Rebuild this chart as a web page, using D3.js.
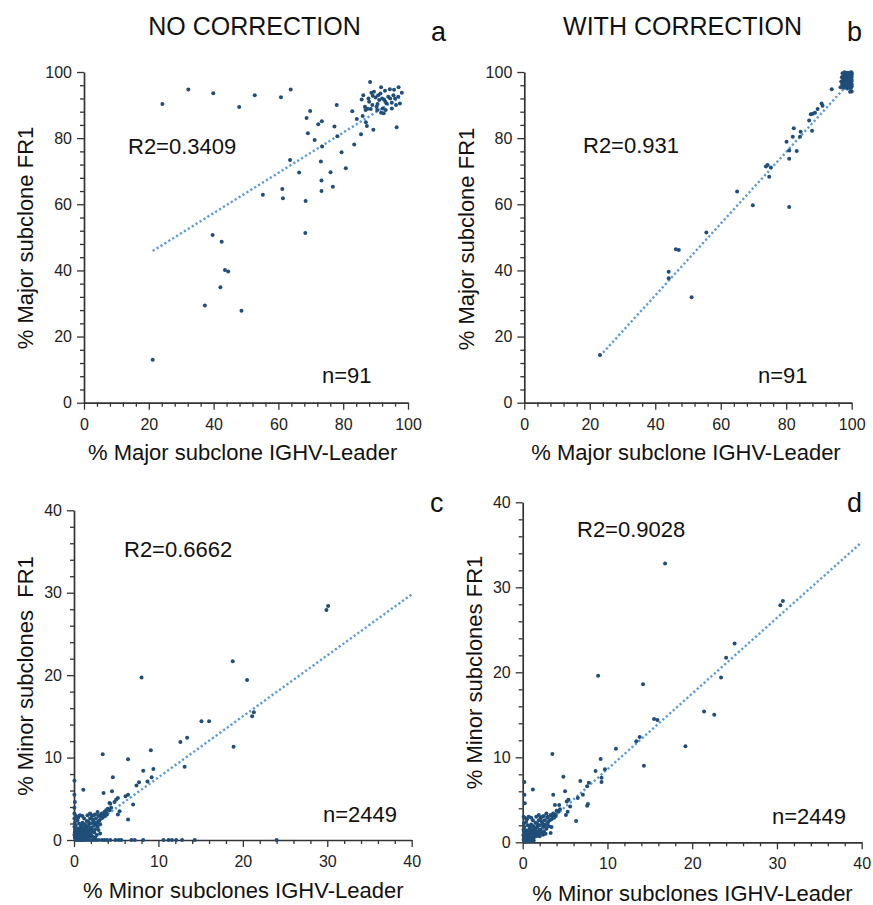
<!DOCTYPE html>
<html>
<head>
<meta charset="utf-8">
<script src="https://cdn.jsdelivr.net/npm/d3@7"></script>
<style>
  html, body { margin: 0; padding: 0; background: #fff; }
  svg { display: block; font-family: "Liberation Sans", Arial, Helvetica, sans-serif; }
</style>
</head>
<body>
<svg id="chart" width="873" height="905"></svg>
<script>
// ---- Data: % major subclone, leader vs FR1 (no correction) ----
const majorRaw = [
  [24.2,90.3],[32.2,94.7],[39.9,93.6],[47.9,89.4],[52.7,93.0],[60.8,92.4],[63.8,94.7],[88.3,97.0],
  [78.0,90.0],[69.8,88.2],[68.7,86.1],[73.4,85.1],[72.3,84.2],[77.3,83.5],[69.1,81.5],[71.2,79.4],
  [78.2,80.6],[73.5,77.5],[83.4,78.1],[79.5,75.7],[63.6,73.4],[73.1,72.9],[80.8,70.9],[66.4,69.6],
  [76.1,69.7],[73.3,67.2],[76.8,65.3],[73.3,64.0],[61.2,64.6],[61.4,61.8],[55.2,62.9],[68.4,61.0],
  [68.3,51.3],[39.7,50.7],[42.5,48.7],[43.5,40.1],[44.5,39.7],[42.1,34.9],[37.3,29.4],[48.6,27.8],
  [21.2,13.0],
  [82.8,88.1],[84.2,85.8],[85.5,81.2],[85.7,91.7],[86.2,93.0],[86.0,86.7],[86.7,89.5],[87.0,84.8],
  [87.3,83.7],[86.9,88.5],[87.5,88.9],[88.5,88.8],[88.7,93.7],[89.1,92.8],[89.3,82.5],[90.0,92.3],
  [90.3,89.5],[90.6,90.3],[90.8,93.0],[91.1,91.5],[91.7,87.7],[91.7,95.4],[92.2,89.0],[92.6,91.7],
  [92.9,94.3],[93.1,88.5],[93.4,90.5],[93.9,92.5],[94.4,94.8],[95.0,90.7],[95.5,93.0],[95.7,94.6],
  [96.0,92.0],[96.3,90.0],[96.5,83.3],[97.1,95.4],[97.5,90.5],[98.1,93.7],[97.0,92.5],
  [88.0,91.0],[89.5,94.0],[91.5,93.5],[92.0,92.0],[93.0,91.0],[94.5,92.0],[95.0,89.0],[89.0,90.0],
  [90.5,88.5],[92.5,87.5],[87.8,92.0]
];

// ---- Data: % major subclone, leader vs FR1 (with correction) ----
const majorCorrected = [
  [23.1,14.4],[51.1,31.9],[44.1,37.6],[44.1,39.6],[46.3,46.4],[47.2,46.2],[55.6,51.5],[65.0,63.9],
  [69.8,59.7],[80.9,59.2],[73.8,71.4],[74.3,71.9],[75.3,71.1],[74.8,68.3],[80.1,78.9],[80.9,76.3],
  [80.9,73.8],[83.2,76.1],[82.0,80.4],[82.3,83.0],[84.2,80.4],[84.4,81.9],[87.9,82.2],[87.0,85.3],
  [87.5,87.2],[88.1,87.4],[88.8,87.7],[89.6,88.8],[90.8,90.5],[91.1,89.8],[93.9,94.8],[99.5,94.0],
  [97.2,99.6],[97.6,98.8],[98.0,99.4],[98.3,98.1],[98.6,99.8],[98.9,99.0],[99.2,99.5],[99.5,98.6],[99.8,99.9],[100,99.3],
  [97.4,97.6],[97.9,97.2],[98.2,96.8],[98.7,97.7],[99.0,96.5],[99.3,97.4],[99.6,96.9],[99.9,97.8],[100,96.2],[97.1,96.3],
  [97.5,95.6],[98.1,95.9],[98.8,95.3],[99.4,95.8],[99.7,95.1],[100,95.6],[97.0,98.4],[97.8,99.9],[98.4,97.4],[99.1,98.2],
  [99.6,98.0],[100,98.5],[97.3,96.9],[98.5,96.2],[99.2,96.0],[99.8,96.6],[97.7,98.0],[98.9,98.6],[99.4,99.1],[100,97.3],
  [96.6,95.4],[97.9,96.4],[98.6,95.0],[99.3,99.8],[99.9,98.9],[97.5,99.1],[98.2,98.5],[99.0,97.1],[99.7,97.6],[100,99.8],
  [96.8,97.1],[98.0,98.0],[98.8,99.2],[99.5,96.4],[100,94.1],[97.6,95.2],[98.4,99.6],[99.1,95.5],[99.8,99.4]
];

// ---- Data: % minor subclones, leader vs FR1 (no correction) ----
const minorRaw = [
  [30.1,28.4],[29.9,27.9],[18.8,21.7],[8.0,19.7],[20.5,19.4],[21.3,15.5],[21.1,15.0],[15.1,14.4],
  [16.0,14.4],[18.9,11.3],[12.6,11.9],[13.4,12.4],[13.1,8.9],[3.4,10.4],[6.4,9.8],[9.1,10.9],
  [9.4,8.6],[8.2,8.4],[9.2,7.6],[8.7,7.1],[7.7,7.0],[7.4,6.6],[4.6,7.6],[4.5,5.9],[3.5,5.7],
  [1.1,6.1],[6.4,5.5],[6.1,5.3],[5.2,5.1],[4.8,4.6],[5.0,4.9],[7.0,4.3],[4.2,4.5],[6.4,2.5],
  [5.4,3.5],[5.2,3.1],[4.0,3.8],[3.8,3.6],[3.2,3.0],[3.1,0.8],
  [0.05,7.2],[0.05,5.5],[0.1,4.6],[0.05,3.9],[0.05,3.2],[0.05,2.6],[0.1,2.1],[0.05,1.6],[0.1,1.1],
  [0.05,0.6],[0.1,0.3],
  [0.2,0],[0.4,0],[0.6,0],[0.8,0],[1.0,0],[1.2,0],[1.4,0],[1.7,0],[2.0,0],[2.3,0],[2.6,0],[2.9,0],
  [3.3,0],[3.6,0],[3.9,0],[4.3,0],[4.9,0],[5.3,0],[5.6,0],[6.8,0],[7.2,0],[8.2,0],[10.6,0],[11.2,0],
  [11.6,0],[12.1,0],[12.8,0],[14.3,0],[24.0,0],
  [0.2,0.2],[0.3,0.5],[0.4,0.3],[0.5,0.8],[0.6,0.5],[0.7,0.2],[0.8,1.0],[0.9,0.6],[1.0,0.3],[1.1,1.2],
  [1.2,0.8],[1.3,0.5],[1.4,1.4],[1.5,1.0],[1.6,0.7],[1.7,1.7],[1.8,1.2],[1.9,0.9],[2.0,2.0],[2.1,1.5],
  [2.2,1.1],[2.3,2.3],[2.4,1.8],[2.5,1.3],[2.6,2.6],[2.7,2.1],[2.8,1.6],[2.9,2.9],[3.0,2.4],[3.1,1.9],
  [3.3,3.2],[3.4,2.7],[3.6,3.4],[3.7,2.9],[3.9,3.1],[4.2,3.6],[4.4,3.9],
  [0.3,1.0],[0.5,1.4],[0.2,1.8],[0.6,2.0],[0.4,2.4],[0.8,1.6],[1.0,2.1],[1.2,2.6],[1.0,2.9],[0.7,3.0],
  [1.3,1.9],[1.5,2.3],[1.6,3.0],[1.9,2.6],[2.1,2.9],[2.3,3.0],[1.9,3.2],[2.5,3.1],[2.8,3.4],
  [0.1,0.9],[0.2,0.6],[0.3,1.4],[0.4,0.1],[0.6,1.1],[0.7,0.8],[0.9,1.3],[1.1,0.1],[1.1,0.9],[1.3,1.1],
  [1.4,0.3],[1.6,1.2],[1.8,0.4],[2.0,0.7],[2.2,0.4],[2.4,0.9],[2.7,0.6],[0.5,0.1],[0.8,0.4],[1.5,1.6],
  [1.8,2.0],[2.0,1.4],[2.2,2.5],[2.6,1.9],[2.9,2.2],[3.2,2.6],[0.15,1.3],[0.35,0.75],[0.9,1.8],[1.2,1.5],
  [1.7,2.2],[2.4,2.1],[3.0,3.0],[3.5,3.0],[3.8,3.3],[4.0,3.7],[4.3,4.4],[2.9,1.2],[1.6,0.2],[2.5,0.3],
  [0.25,2.9],[0.5,2.7]
];

// ---- Data: % minor subclones, leader vs FR1 (with correction) ----
const minorCorrected = [
  [16.8,32.8],[30.7,28.4],[30.4,27.9],[25.0,23.4],[24.0,21.7],[23.4,19.4],[8.9,19.6],[14.2,18.6],
  [21.4,15.4],[22.6,15.0],[15.5,14.5],[15.9,14.4],[19.2,11.3],[13.8,12.4],[13.4,11.9],[11.0,11.0],
  [14.3,9.0],[3.5,10.4],[9.2,9.8],[8.6,8.4],[9.7,8.6],[9.3,7.6],[9.3,7.1],[6.8,7.2],[7.8,7.0],
  [7.6,6.6],[4.8,7.7],[5.0,6.0],[3.6,5.6],[1.2,6.2],[7.1,5.6],[6.5,5.2],[5.2,4.8],[5.4,5.0],
  [7.7,4.5],[7.6,4.3],[3.8,4.4],[5.6,4.2],[5.3,3.6],[5.1,3.2],[6.3,2.5],[3.3,1.1],
  [0.2,7.1],[0.2,5.6],[0.25,4.6],[0.1,3.0],[0.15,2.2],[0.1,1.5],[0.1,0.8],[0.1,0.3],
  [0.2,0.05],[0.5,0.1],[0.9,0.15],[1.3,0.2],[0.3,0.3],[0.7,0.4],
  [0.2,0.2],[0.3,0.5],[0.4,0.3],[0.5,0.8],[0.6,0.5],[0.7,0.2],[0.8,1.0],[0.9,0.6],[1.0,0.3],[1.1,1.2],
  [1.2,0.8],[1.3,0.5],[1.4,1.4],[1.5,1.0],[1.6,0.7],[1.7,1.7],[1.8,1.2],[1.9,0.9],[2.0,2.0],[2.1,1.5],
  [2.2,1.1],[2.3,2.3],[2.4,1.8],[2.5,1.3],[2.6,2.6],[2.7,2.1],[2.8,1.6],[2.9,2.9],[3.0,2.4],[3.1,1.9],
  [3.3,3.2],[3.4,2.7],[3.6,3.4],[3.7,2.9],[3.9,3.1],[4.2,3.6],[4.4,3.9],
  [0.3,1.0],[0.5,1.4],[0.2,1.8],[0.6,2.0],[0.4,2.4],[0.8,1.6],[1.0,2.1],[1.2,2.6],[1.0,2.9],[0.7,3.0],
  [1.3,1.9],[1.5,2.3],[1.6,3.0],[1.9,2.6],[2.1,2.9],[2.3,3.0],[1.9,3.2],[2.5,3.1],[2.8,3.4],
  [0.1,0.9],[0.2,0.6],[0.3,1.4],[0.6,1.1],[0.7,0.8],[0.9,1.3],[1.1,0.9],[1.3,1.1],[1.6,1.2],
  [2.0,0.7],[2.4,0.9],[2.7,1.0],[0.8,0.4],[1.5,1.6],[1.8,2.0],[2.0,1.4],[2.2,2.5],[2.6,1.9],
  [2.9,2.2],[3.2,2.6],[0.15,1.3],[0.35,0.75],[0.9,1.8],[1.2,1.5],[1.7,2.2],[2.4,2.1],[3.0,3.0],
  [3.5,3.0],[3.8,3.3],[4.0,3.7],[4.3,4.4],[3.4,1.8],[0.25,2.9],[0.5,2.7]
];

// ---- Labels and fitted trend lines ----
const panelTitles   = ["NO CORRECTION", "WITH CORRECTION"];
const panelLetters  = ["a", "b", "c", "d"];
const r2Labels      = ["R2=0.3409", "R2=0.931", "R2=0.6662", "R2=0.9028"];
const nLabels       = ["n=91", "n=91", "n=2449", "n=2449"];
const xAxisLabels   = ["% Major subclone IGHV-Leader", "% Major subclone IGHV-Leader",
                       "% Minor subclones IGHV-Leader", "% Minor subclones IGHV-Leader"];
const yAxisLabels   = ["% Major subclone FR1", "% Major subclone FR1",
                       "% Minor subclones  FR1", "% Minor subclones FR1"];
const majorTicks    = [0, 20, 40, 60, 80, 100];
const minorTicksSet = [0, 10, 20, 30, 40];
const fitSlopes     = [0.609, 1.085, 0.74, 0.89];
const fitIntercepts = [32.97, -10.96, 0.2, -0.3];
const fitRanges     = [[21.2, 97.5], [23.1, 100], [0, 40], [0.3, 40]];

// ---- Layout ----
const panels = [
  { data: majorRaw,       box: { l: 84,    r: 408,   t: 72,    b: 402.7 }, max: 100, ticks: majorTicks,    minorStep: 4,
    letter: [431, 41],  r2: [128, 154], n: [322, 383], xl: [242.7, 460], yl: [32.5, 238] },
  { data: majorCorrected, box: { l: 524.3, r: 851.7, t: 72,    b: 402.7 }, max: 100, ticks: majorTicks,    minorStep: 4,
    letter: [847, 41],  r2: [583, 153], n: [758, 383], xl: [686, 460],   yl: [474, 239] },
  { data: minorRaw,       box: { l: 74,    r: 411.7, t: 510.3, b: 840 },   max: 40,  ticks: minorTicksSet, minorStep: 2,
    letter: [430, 512], r2: [124, 557], n: [323, 822], xl: [243.3, 898], yl: [33, 676] },
  { data: minorCorrected, box: { l: 522.7, r: 861.7, t: 502.3, b: 842.3 }, max: 40,  ticks: minorTicksSet, minorStep: 2,
    letter: [847, 512], r2: [577, 537], n: [772, 824], xl: [692.5, 901], yl: [482, 672.5] }
];

const svg = d3.select("#chart");
const ink = "#222";
const dotColor = "#1f4e79";
const fitColor = "#5b9bd5";

// Column titles
svg.selectAll("text.title")
  .data(panelTitles)
  .join("text")
  .attr("class", "title")
  .attr("x", (d, i) => i === 0 ? 254.5 : 682.5)
  .attr("y", 35)
  .attr("text-anchor", "middle")
  .attr("font-size", 25)
  .attr("fill", "#111")
  .text(d => d);

panels.forEach((p, i) => {
  const x = d3.scaleLinear().domain([0, p.max]).range([p.box.l, p.box.r]);
  const y = d3.scaleLinear().domain([0, p.max]).range([p.box.b, p.box.t]);
  const g = svg.append("g");

  const minorVals = d3.range(0, p.max + 0.001, p.minorStep).filter(v => !p.ticks.includes(v));

  // minor ticks
  g.append("g")
    .attr("transform", `translate(0,${p.box.b})`)
    .call(d3.axisBottom(x).tickValues(minorVals).tickSize(4).tickFormat(""))
    .call(a => a.select(".domain").remove());
  g.append("g")
    .attr("transform", `translate(${p.box.l},0)`)
    .call(d3.axisLeft(y).tickValues(minorVals).tickSize(4).tickFormat(""))
    .call(a => a.select(".domain").remove());

  // major ticks with labels
  const xAxis = g.append("g")
    .attr("transform", `translate(0,${p.box.b})`)
    .call(d3.axisBottom(x).tickValues(p.ticks).tickSize(7).tickSizeOuter(0).tickPadding(8.5).tickFormat(d3.format("d")));
  const yAxis = g.append("g")
    .attr("transform", `translate(${p.box.l},0)`)
    .call(d3.axisLeft(y).tickValues(p.ticks).tickSize(7).tickSizeOuter(0).tickPadding(5).tickFormat(d3.format("d")));

  [xAxis, yAxis].forEach(a => {
    a.attr("font-family", null).attr("font-size", null);
    a.selectAll("text").attr("font-size", 16).attr("fill", ink);
  });
  g.selectAll(".tick line").attr("stroke", "#333").attr("stroke-width", 1.3);
  g.selectAll(".domain").attr("stroke", "#333").attr("stroke-width", 1.7);

  // trend line
  const [x0, x1] = fitRanges[i];
  const fitLine = d3.line().x(d => x(d)).y(d => y(fitSlopes[i] * d + fitIntercepts[i]));
  g.append("path")
    .datum([x0, x1])
    .attr("d", fitLine)
    .attr("fill", "none")
    .attr("stroke", fitColor)
    .attr("stroke-width", 2.4)
    .attr("stroke-dasharray", "2.2 2.4");

  // points
  g.append("g")
    .selectAll("circle")
    .data(p.data)
    .join("circle")
    .attr("cx", d => x(d[0]))
    .attr("cy", d => y(d[1]))
    .attr("r", 2)
    .attr("fill", dotColor);

  // annotations
  g.append("text").attr("x", p.r2[0]).attr("y", p.r2[1]).attr("font-size", 22).attr("fill", "#111").text(r2Labels[i]);
  g.append("text").attr("x", p.n[0]).attr("y", p.n[1]).attr("font-size", 22).attr("fill", "#111").text(nLabels[i]);
  g.append("text").attr("x", p.letter[0]).attr("y", p.letter[1]).attr("font-size", 27).attr("fill", "#111").text(panelLetters[i]);

  // axis titles
  g.append("text")
    .attr("x", p.xl[0]).attr("y", p.xl[1])
    .attr("text-anchor", "middle").attr("font-size", 22).attr("fill", "#111")
    .text(xAxisLabels[i]);
  g.append("text")
    .attr("transform", `translate(${p.yl[0]},${p.yl[1]}) rotate(-90)`)
    .attr("text-anchor", "middle").attr("font-size", 22).attr("fill", "#111")
    .style("white-space", "pre")
    .text(yAxisLabels[i]);
});
</script>
</body>
</html>
